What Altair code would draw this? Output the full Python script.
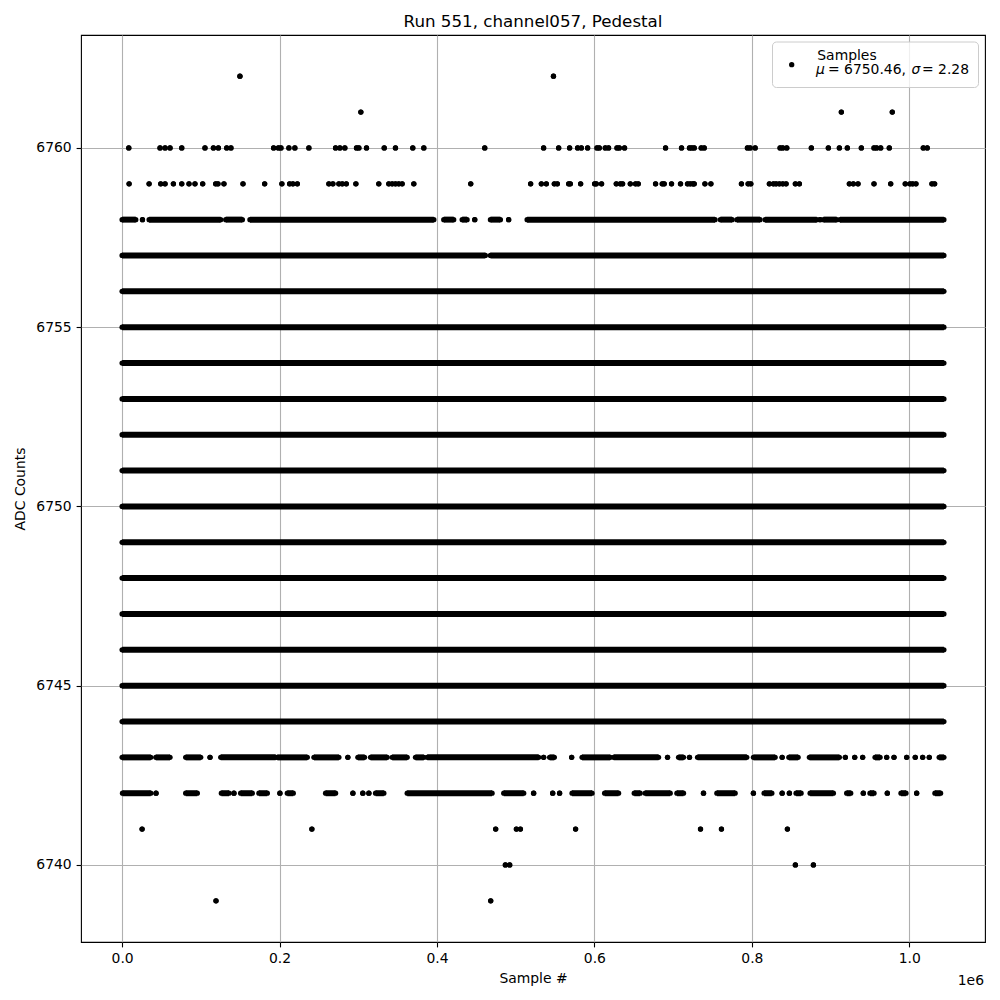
import altair as alt
import pandas as pd

TITLE = "Run 551, channel057, Pedestal"
X_TITLE = "Sample #"
Y_TITLE = "ADC Counts"
X_TICKS = [0, 200000, 400000, 600000, 800000, 1000000]
Y_TICKS = [6740, 6745, 6750, 6755, 6760]
LEGEND_LABEL = "Samples"
LEGEND_MU = "6750.46"
LEGEND_SIGMA = "2.28"

LAST = 1.044  # last sample index, in millions

# rows that are filled along the whole run
DENSE_ADC = list(range(6744, 6757))

# isolated samples (positions in millions of samples)
P_6762 = [0.1497, 0.548]
P_6761 = [0.3033, 0.9137, 0.9784]
P_6760 = [0.0085, 0.0482, 0.0546, 0.0609, 0.0758, 0.1053, 0.116, 0.1223, 0.1329, 0.1383,
          0.1925, 0.1985, 0.2018, 0.2119, 0.2195, 0.2373, 0.2712, 0.2767, 0.283, 0.2978,
          0.3008, 0.3105, 0.333, 0.3473, 0.3693, 0.3833, 0.4607, 0.5355, 0.5546, 0.5685,
          0.5787, 0.5834, 0.5914, 0.6033, 0.6062, 0.6138, 0.618, 0.6287, 0.6316, 0.6383,
          0.6904, 0.7107, 0.7208, 0.7238, 0.7268, 0.7357, 0.7395, 0.7944, 0.7978, 0.8042,
          0.8359, 0.8393, 0.8444, 0.8756, 0.8972, 0.9112, 0.9213, 0.9391, 0.9552, 0.9586,
          0.9637, 0.9746, 1.0178, 1.0228]
P_6759 = [0.0089, 0.0343, 0.0491, 0.0546, 0.0652, 0.0758, 0.085, 0.0926, 0.1024, 0.1189,
          0.1218, 0.1294, 0.1536, 0.1811, 0.203, 0.2128, 0.217, 0.2226, 0.2627, 0.2678,
          0.2754, 0.2797, 0.2848, 0.297, 0.3261, 0.3388, 0.3431, 0.3473, 0.3515, 0.3558,
          0.3706, 0.4429, 0.519, 0.5326, 0.5389, 0.5491, 0.5529, 0.5673, 0.5694, 0.5825,
          0.6003, 0.6024, 0.6091, 0.6278, 0.6329, 0.6358, 0.6456, 0.6523, 0.6557, 0.6777,
          0.6862, 0.6887, 0.698, 0.7094, 0.7183, 0.7217, 0.7251, 0.7268, 0.7404, 0.748,
          0.7868, 0.7953, 0.7987, 0.8223, 0.8274, 0.8308, 0.835, 0.8393, 0.8435, 0.8553,
          0.8604, 0.9239, 0.9289, 0.9349, 0.9552, 0.9764, 0.9949, 1.0009, 1.0043, 1.0085,
          1.0288, 1.0322]
P_6741 = [0.0254, 0.2411, 0.4746, 0.5009, 0.506, 0.5761, 0.7348, 0.7614, 0.8452]
P_6740 = [0.4869, 0.4924, 0.8553, 0.8782]
P_6739 = [0.1193, 0.4683]

# runs of consecutive samples [first, last] (millions)
S_6758 = [[0.0, 0.0174], [0.0259, 0.0259], [0.0343, 0.1253], [0.1316, 0.1528], [0.1624, 0.396],
          [0.4086, 0.4213], [0.432, 0.4383], [0.448, 0.448], [0.4679, 0.4806], [0.4911, 0.4911],
          [0.5145, 0.7533], [0.76, 0.775], [0.781, 0.8105], [0.8169, 0.8825], [0.8867, 0.8867],
          [0.891, 0.9078], [0.912, 1.044]]
S_6757 = [[0.0, 0.4615], [0.4679, 1.044]]
S_6743 = [[0.0, 0.0364], [0.0428, 0.0609], [0.0808, 0.0999], [0.1117, 0.1117], [0.1253, 0.1951],
          [0.1972, 0.2353], [0.2437, 0.2754], [0.2868, 0.2868], [0.2995, 0.308], [0.3156, 0.3368],
          [0.3431, 0.3622], [0.3727, 0.3833], [0.3876, 0.5292], [0.5355, 0.5355], [0.5431, 0.5491],
          [0.5711, 0.5711], [0.5843, 0.6202], [0.6244, 0.6815], [0.6929, 0.6929], [0.7069, 0.7132],
          [0.7208, 0.7208], [0.731, 0.7936], [0.802, 0.8296], [0.8385, 0.8385], [0.847, 0.8588],
          [0.8731, 0.9112], [0.9188, 0.9188], [0.9307, 0.9307], [0.9408, 0.9408], [0.9565, 0.9629],
          [0.9713, 0.9713], [0.9806, 0.9806], [0.9967, 0.9967], [1.0076, 1.0076], [1.017, 1.017],
          [1.0254, 1.0254], [1.038, 1.044]]
S_6742 = [[0.0005, 0.0364], [0.0431, 0.0431], [0.0808, 0.0956], [0.1261, 0.1358], [0.1421, 0.1421],
          [0.1506, 0.1654], [0.1738, 0.1845], [0.2005, 0.2005], [0.2099, 0.2175], [0.2585, 0.2712],
          [0.2932, 0.2932], [0.3058, 0.3058], [0.3135, 0.3135], [0.322, 0.3325], [0.3622, 0.47],
          [0.4848, 0.5102], [0.5228, 0.5228], [0.547, 0.547], [0.5558, 0.5558], [0.5716, 0.597],
          [0.613, 0.6307], [0.6506, 0.6582], [0.6646, 0.6963], [0.7048, 0.7132], [0.7386, 0.7386],
          [0.7556, 0.7788], [0.802, 0.802], [0.8156, 0.8254], [0.8385, 0.8385], [0.8477, 0.8477],
          [0.8562, 0.8626], [0.874, 0.9036], [0.9205, 0.9256], [0.9416, 0.9416], [0.9501, 0.9552],
          [0.9721, 0.9721], [0.9895, 0.9958], [1.0094, 1.0094], [1.0326, 1.0398]]

POINTS = {6762: P_6762, 6761: P_6761, 6760: P_6760, 6759: P_6759,
          6741: P_6741, 6740: P_6740, 6739: P_6739}
SEGMENTS = {6758: S_6758, 6757: S_6757, 6743: S_6743, 6742: S_6742}

rows = []
for adc in DENSE_ADC:
    rows.append({"adc": adc, "start": 0.0, "end": LAST * 1e6})
for adc, lst in SEGMENTS.items():
    for a, b in lst:
        rows.append({"adc": adc, "start": a * 1e6, "end": min(b, LAST) * 1e6})
for adc, lst in POINTS.items():
    for a in lst:
        rows.append({"adc": adc, "start": a * 1e6, "end": a * 1e6})
df = pd.DataFrame(rows)

xmin, xmax = 0.0, LAST * 1e6
xpad = 0.05 * (xmax - xmin)
ymin, ymax = 6739, 6762
ypad = 0.05 * (ymax - ymin)
xs = alt.Scale(domain=[xmin - xpad, xmax + xpad], nice=False, zero=False)
ys = alt.Scale(domain=[ymin - ypad, ymax + ypad], nice=False, zero=False)

x_axis = alt.Axis(values=X_TICKS, title=X_TITLE,
                  labelExpr="format(datum.value / 1e6, '.1f')", titlePadding=6)
y_axis = alt.Axis(values=Y_TICKS, title=Y_TITLE, format="d", titlePadding=8)

base = alt.Chart(df)
runs = base.mark_rule(color="black", strokeWidth=6, strokeCap="butt").encode(
    x=alt.X("start:Q", scale=xs, axis=x_axis),
    x2="end:Q",
    y=alt.Y("adc:Q", scale=ys, axis=y_axis),
)
dots = base.transform_fold(["start", "end"], as_=["edge", "pos"]).mark_circle(
    color="black", size=28, opacity=1
).encode(
    x=alt.X("pos:Q", scale=xs, axis=x_axis),
    y=alt.Y("adc:Q", scale=ys, axis=y_axis),
)

one = pd.DataFrame({"k": [0]})
legend_box = alt.Chart(one).mark_rect(
    fill="white", fillOpacity=0.8, stroke="#cccccc", strokeWidth=1, cornerRadius=4
).encode(x=alt.value(691.5), x2=alt.value(897.5), y=alt.value(7), y2=alt.value(52.5))
legend_dot = alt.Chart(one).mark_circle(color="black", size=28, opacity=1).encode(
    x=alt.value(710.7), y=alt.value(29.7))

FONT = "DejaVu Sans"
FS = 13.9


def txt(s, x, y, italic=False, align="left"):
    return alt.Chart(pd.DataFrame({"t": [s]})).mark_text(
        font=FONT, fontSize=FS, color="black", align=align, baseline="alphabetic",
        fontStyle="italic" if italic else "normal",
    ).encode(text="t:N", x=alt.value(x), y=alt.value(y))


legend_texts = [
    txt(LEGEND_LABEL, 736.3, 25.3),
    txt("\u03bc", 735, 39.4, italic=True),
    txt("= " + LEGEND_MU + ",", 747, 39.4),
    txt("\u03c3", 830.5, 39.4, italic=True),
    txt("= " + LEGEND_SIGMA, 841, 39.4),
]
offset_text = txt("1e6", 903, 949.5, align="right")

chart = alt.layer(runs, dots, legend_box, legend_dot, *legend_texts, offset_text).properties(
    width=904, height=907,
    background="white",
    title=alt.TitleParams(TITLE, font=FONT, fontSize=16.7, fontWeight="normal",
                          color="black", anchor="middle", offset=4),
    autosize=alt.AutoSizeParams(type="none"),
    padding={"left": 73, "top": 27, "right": 7, "bottom": 50},
).configure_view(
    stroke="black", strokeWidth=1.1
).configure_axis(
    labelFont=FONT, labelFontSize=FS, labelColor="black",
    titleFont=FONT, titleFontSize=FS, titleFontWeight="normal", titleColor="black",
    tickColor="black", tickSize=4.9, tickWidth=1.1, labelPadding=4.9,
    grid=True, gridColor="#b0b0b0", gridWidth=1.1, domain=False,
)

chart.save("out.html", embed_options={"renderer": "svg", "actions": False})
